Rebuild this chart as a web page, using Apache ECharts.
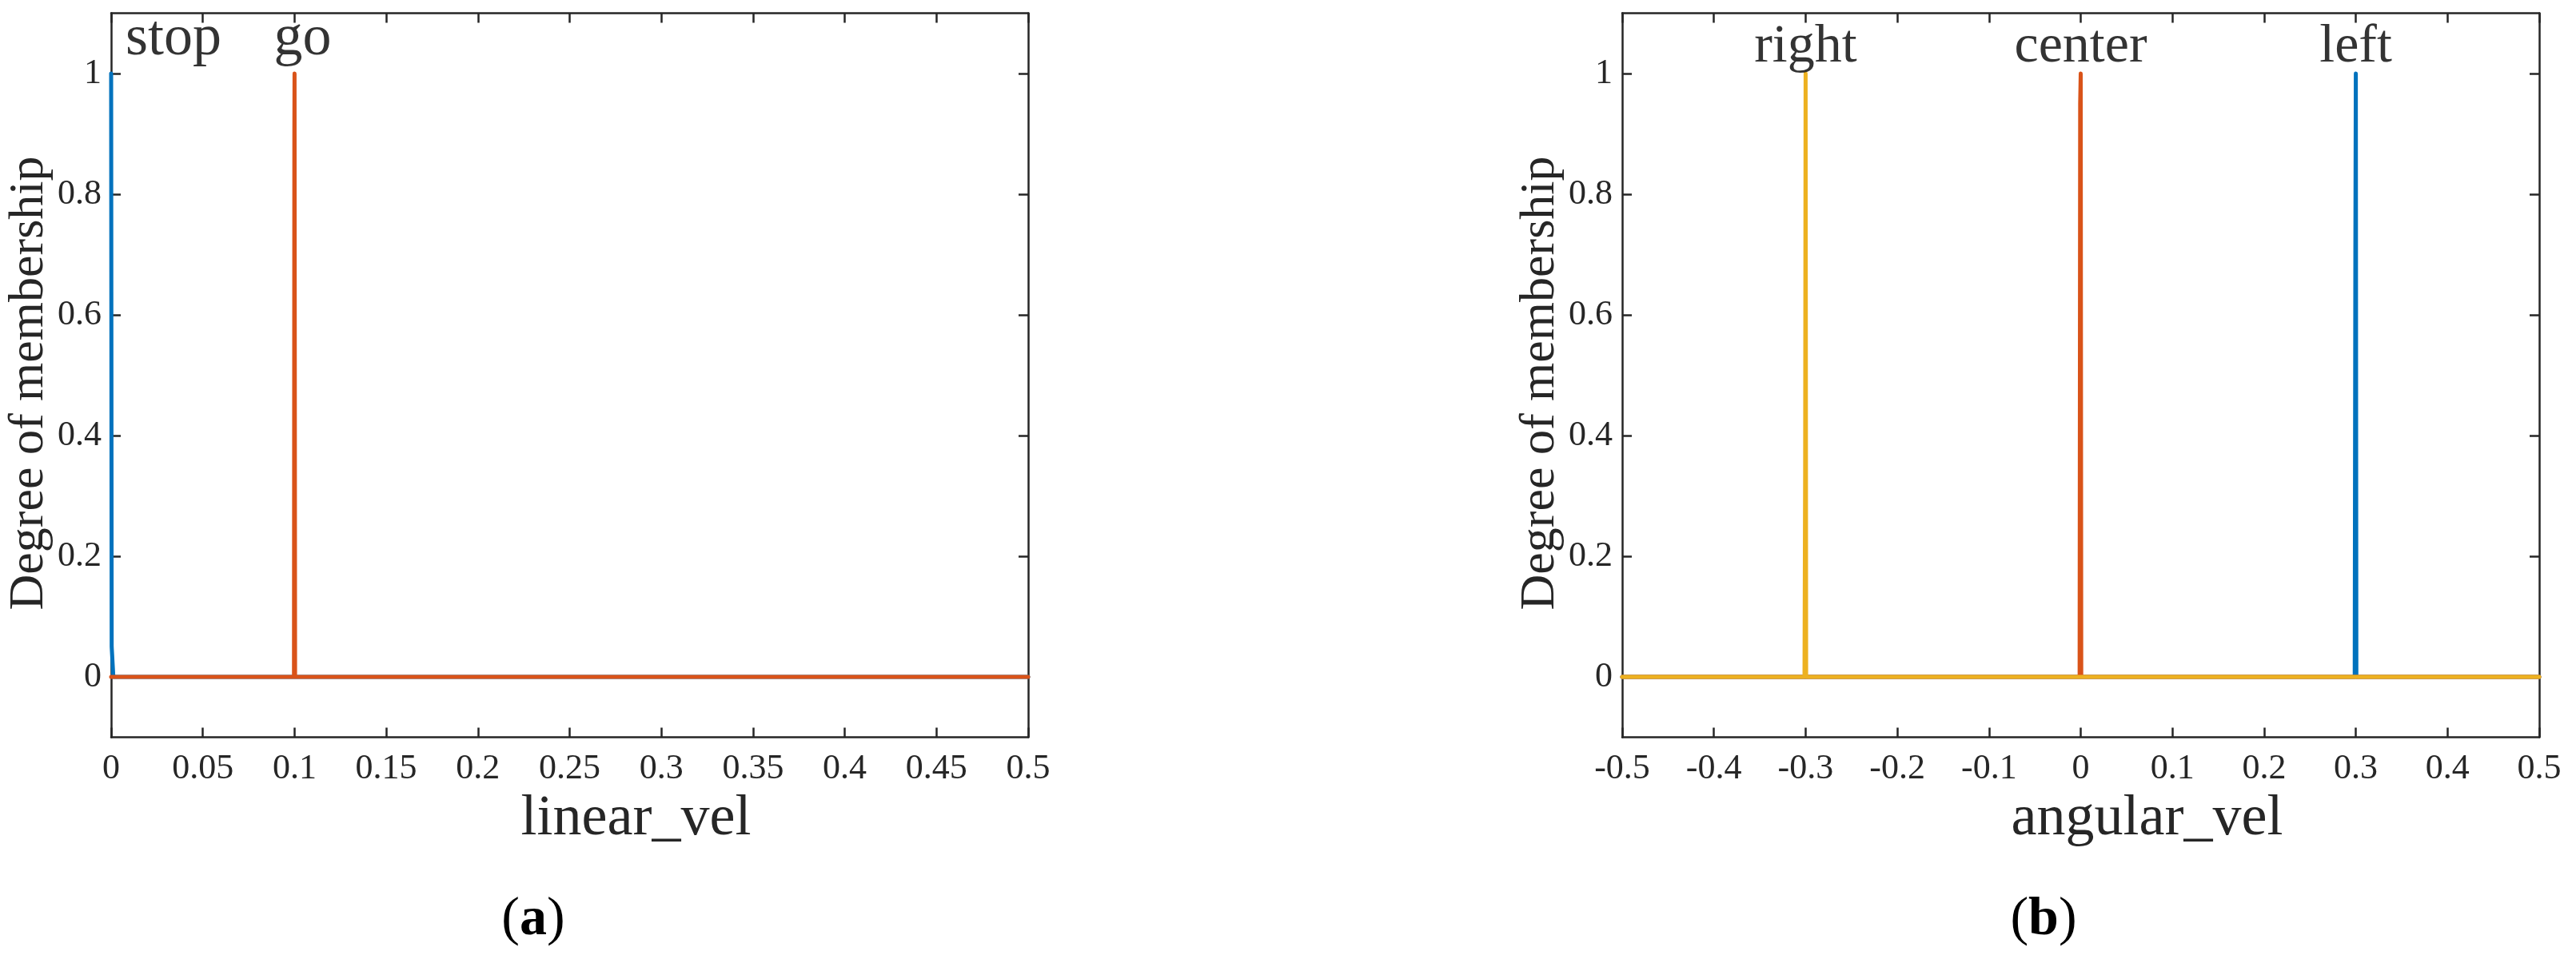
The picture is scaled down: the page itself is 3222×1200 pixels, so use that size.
<!DOCTYPE html>
<html><head><meta charset="utf-8">
<script src="https://cdn.jsdelivr.net/npm/echarts@6/dist/echarts.min.js"></script>
<style>html,body{margin:0;padding:0;background:#fff}#c{width:3222px;height:1200px}</style>
</head><body><div id="c"></div>
<script>
// ---------- data ----------
const yTicks = [0, 0.2, 0.4, 0.6, 0.8, 1];
const yName = 'Degree of membership';

// panel (a)
const xTicksA = [0, 0.05, 0.1, 0.15, 0.2, 0.25, 0.3, 0.35, 0.4, 0.45, 0.5];
const xNameA = 'linear_vel';
const mfNamesA = ['stop', 'go'];
const mfLabelXA = [0, 0.1];
const stopX = [0, 0.0003, 0.0012, 0.5];
const stopY = [1, 0.05, 0, 0];
const goX = [0, 0.0997, 0.0999, 0.1, 0.1003, 0.5];
const goY = [0, 0, 0.9, 1, 0, 0];

// panel (b)
const xTicksB = [-0.5, -0.4, -0.3, -0.2, -0.1, 0, 0.1, 0.2, 0.3, 0.4, 0.5];
const xNameB = 'angular_vel';
const mfNamesB = ['right', 'center', 'left'];
const mfLabelXB = [-0.3, 0, 0.3];
const leftX = [-0.5, 0.2988, 0.2995, 0.3, 0.3006, 0.5];
const leftY = [0, 0, 0.7, 1, 0, 0];
const centerX = [-0.5, -0.0012, -0.0006, 0, 0.0006, 0.5];
const centerY = [0, 0, 0.95, 1, 0, 0];
const rightX = [-0.5, -0.3012, -0.3005, -0.3, -0.2994, 0.5];
const rightY = [0, 0, 0.34, 1, 0, 0];

// ---------- styling ----------
const FONT = 'Liberation Serif';
const AX = '#262626';
const BLUE = '#0072BD', ORANGE = '#D95319', YELLOW = '#EDB120';
const LW = 5;

function pts(xs, ys) { return xs.map((x, i) => [x, ys[i]]); }

function xAxes(grid, min, max, ticks, name) {
  const line = {show: true, onZero: false, lineStyle: {color: AX, width: 2.5}};
  const tick = {show: true, inside: true, length: 12, customValues: ticks, lineStyle: {color: AX, width: 2.5}};
  return [
    {gridIndex: grid, type: 'value', min, max, position: 'bottom', z: 0,
     name, nameLocation: 'middle', nameGap: 52,
     nameTextStyle: {fontFamily: FONT, fontSize: 72, color: AX, padding: [0, 0, 0, 166]},
     axisLine: line, axisTick: tick, splitLine: {show: false},
     axisLabel: {show: true, customValues: ticks, margin: 18, fontSize: 44, fontFamily: FONT, color: AX,
                 showMinLabel: true, showMaxLabel: true, hideOverlap: false}},
    {gridIndex: grid, type: 'value', min, max, position: 'top', z: 0,
     axisLine: line, axisTick: tick, splitLine: {show: false}, axisLabel: {show: false}}
  ];
}
function yAxes(grid) {
  const line = {show: true, onZero: false, lineStyle: {color: AX, width: 2.5}};
  const tick = {show: true, inside: true, length: 12, customValues: yTicks, lineStyle: {color: AX, width: 2.5}};
  return [
    {gridIndex: grid, type: 'value', min: -0.1, max: 1.1, position: 'left', z: 0,
     name: yName, nameLocation: 'middle', nameRotate: 90, nameGap: 66,
     nameTextStyle: {fontFamily: FONT, fontSize: 62, color: AX, padding: [0, 20, 0, 0]},
     axisLine: line, axisTick: tick, splitLine: {show: false},
     axisLabel: {show: true, customValues: yTicks, margin: 12, fontSize: 44, fontFamily: FONT, color: AX,
                 showMinLabel: true, showMaxLabel: true}},
    {gridIndex: grid, type: 'value', min: -0.1, max: 1.1, position: 'right', z: 0,
     axisLine: line, axisTick: tick, splitLine: {show: false}, axisLabel: {show: false}}
  ];
}
function mfLine(name, xs, ys, color, xi, yi) {
  return {type: 'line', name, xAxisIndex: xi, yAxisIndex: yi, data: pts(xs, ys),
          showSymbol: false, symbol: 'none', clip: false, silent: true, z: 10,
          lineStyle: {color, width: LW, cap: 'round', join: 'round'}};
}
function labelSeries(names, xs, xi, yi, fontSize, dist, offsets) {
  return {type: 'scatter', xAxisIndex: xi, yAxisIndex: yi, symbolSize: 0, silent: true, z: 12,
          data: names.map((n, i) => {
            const item = {name: n, value: [xs[i], 1]};
            if (offsets && offsets[i]) item.label = offsets[i];
            return item;
          }),
          label: {show: true, position: 'top', distance: dist, formatter: '{b}',
                  fontFamily: FONT, fontSize, color: '#000'}};
}

const option = {
  animation: false,
  backgroundColor: '#fff',
  grid: [
    {left: 139, top: 16.5, width: 1147, height: 906},
    {left: 2029, top: 16.5, width: 1147, height: 906}
  ],
  xAxis: [...xAxes(0, 0, 0.5, xTicksA, xNameA), ...xAxes(1, -0.5, 0.5, xTicksB, xNameB)],
  yAxis: [...yAxes(0), ...yAxes(1)],
  series: [
    mfLine('stop', stopX, stopY, BLUE, 0, 0),
    mfLine('go', goX, goY, ORANGE, 0, 0),
    labelSeries(mfNamesA, mfLabelXA, 0, 0, 72, 7,
                [{align: 'left', offset: [18, 0]}, {offset: [10, 0]}]),
    mfLine('left', leftX, leftY, BLUE, 2, 2),
    mfLine('center', centerX, centerY, ORANGE, 2, 2),
    mfLine('right', rightX, rightY, YELLOW, 2, 2),
    labelSeries(mfNamesB, mfLabelXB, 2, 2, 68, -1, null)
  ],
  graphic: [
    {type: 'text', x: 667, y: 1151, silent: true,
     style: {text: '{p|(}{b|a}{p|)}', align: 'center', verticalAlign: 'middle',
             rich: {p: {fontFamily: FONT, fontSize: 68, fill: '#000'},
                    b: {fontFamily: FONT, fontSize: 68, fontWeight: 'bold', fill: '#000'}}}},
    {type: 'text', x: 2556, y: 1151, silent: true,
     style: {text: '{p|(}{b|b}{p|)}', align: 'center', verticalAlign: 'middle',
             rich: {p: {fontFamily: FONT, fontSize: 68, fill: '#000'},
                    b: {fontFamily: FONT, fontSize: 68, fontWeight: 'bold', fill: '#000'}}}}
  ]
};
const chart = echarts.init(document.getElementById('c'), null, {renderer: 'canvas'});
chart.setOption(option);
</script></body></html>
